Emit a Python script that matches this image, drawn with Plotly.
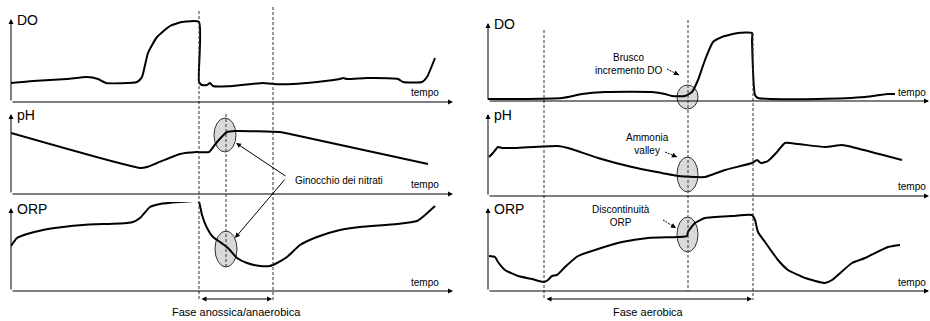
import plotly.graph_objects as go

FIG_W, FIG_H = 930, 321

# ---------------- data (time units / signal units, per panel) ----------------
do_left_t = [0, 22, 56, 76, 87, 95, 126, 131, 137, 146, 159, 171, 188, 188, 191, 196, 199, 202, 222, 252, 262, 282, 306, 329, 332, 336, 356, 387, 392, 411, 416, 424]
do_left_v = [19, 21, 23, 25, 23, 19, 20, 25, 49, 65, 76, 80, 80, 20, 17, 17, 19, 16, 16, 19, 18, 18, 20, 23, 24, 23, 24, 23, 20, 20, 25, 44]

ph_left_t = [0, 129, 136, 146, 169, 186, 198, 206, 216, 224, 269, 279, 417]
ph_left_v = [61, 26, 27, 31, 40, 42, 42, 52, 62, 63, 62, 60, 30]

orp_left_t = [0, 6, 16, 32, 52, 72, 116, 122, 129, 139, 149, 186, 188, 191, 196, 202, 209, 217, 226, 236, 249, 259, 266, 276, 289, 306, 329, 349, 386, 406, 414, 424]
orp_left_v = [45, 53, 57, 61, 64, 66, 68, 69, 73, 84, 87, 90, 89, 76, 63, 54, 49, 43, 33, 28, 25, 25, 28, 34, 46, 54, 61, 64, 67, 70, 76, 85]

do_right_t = [0, 27, 74, 94, 117, 164, 177, 184, 197, 204, 210, 217, 225, 234, 250, 264, 264, 267, 270, 284, 330, 377, 400, 407]
do_right_v = [2, 2, 3, 7, 9, 9, 7, 5, 5, 9, 21, 41, 59, 64, 68, 68, 60, 6, 3, 2, 2, 4, 7, 7]

ph_right_t = [1, 5, 10, 14, 27, 70, 80, 110, 144, 190, 207, 217, 237, 264, 269, 273, 280, 289, 297, 310, 337, 354, 364, 414]
ph_right_v = [39, 43, 49, 48, 48, 50, 48, 38, 29, 20, 19, 19, 26, 33, 36, 33, 35, 44, 53, 52, 49, 51, 49, 36]

orp_right_t = [1, 7, 10, 17, 30, 44, 56, 60, 64, 69, 77, 90, 110, 134, 160, 190, 199, 200, 207, 217, 244, 264, 267, 270, 277, 290, 300, 317, 337, 344, 364, 377, 400, 412]
orp_right_v = [35, 34, 29, 21, 15, 12, 9, 11, 15, 16, 24, 35, 42, 49, 53, 54, 55, 59, 68, 73, 75, 76, 71, 59, 49, 31, 21, 13, 8, 11, 28, 33, 44, 46]

panel_names = ["DO", "pH", "ORP", "DO", "pH", "ORP"]
axis_label = "tempo"
note_texts = ["Ginocchio dei nitrati", "Brusco<br>incremento DO", "Ammonia<br>valley", "Discontinuità<br>ORP"]
phase_texts = ["Fase anossica/anaerobica", "Fase aerobica"]

series = [
    (do_left_t, do_left_v), (ph_left_t, ph_left_v), (orp_left_t, orp_left_v),
    (do_right_t, do_right_v), (ph_right_t, ph_right_v), (orp_right_t, orp_right_v),
]

# ---------------- layout geometry (pixels) ----------------
# (x0, x1, top, base)
geom = [
    (11, 453, 19, 102), (11, 453, 114, 194), (11, 453, 208, 291),
    (488, 929, 23, 101), (488, 929, 114, 196), (488, 929, 208, 291),
]
PAD = 6  # extra room around each panel so lines are not clipped


def px(x):
    return x / FIG_W


def py(y):
    return 1 - y / FIG_H


fig = go.Figure()
layout_axes = {}
annotations = []
shapes = []
FONT = "Liberation Sans, Arial, sans-serif"

for i, ((t, v), (x0, x1, top, base), name) in enumerate(zip(series, geom, panel_names)):
    n = i + 1
    xs = "x" if n == 1 else f"x{n}"
    ys = "y" if n == 1 else f"y{n}"
    xk = "xaxis" if n == 1 else f"xaxis{n}"
    yk = "yaxis" if n == 1 else f"yaxis{n}"
    layout_axes[xk] = dict(domain=[px(x0), px(x1)], range=[0, x1 - x0], visible=False, anchor=ys, fixedrange=True)
    layout_axes[yk] = dict(domain=[py(base + PAD), py(top - PAD)], range=[-PAD, base - top + PAD],
                           visible=False, anchor=xs, fixedrange=True)
    fig.add_trace(go.Scatter(x=t, y=v, xaxis=xs, yaxis=ys, mode="lines",
                             line=dict(color="black", width=2, shape="spline", smoothing=0.5),
                             hoverinfo="skip", showlegend=False, cliponaxis=False))
    # axis arrows
    annotations.append(dict(xref="paper", yref="paper", x=px(x1), y=py(base), ax=-(x1 - x0), ay=0,
                            text="", showarrow=True, arrowhead=2, arrowsize=1, arrowwidth=1, arrowcolor="black"))
    annotations.append(dict(xref="paper", yref="paper", x=px(x0), y=py(top), ax=0, ay=base - top,
                            text="", showarrow=True, arrowhead=2, arrowsize=1, arrowwidth=1, arrowcolor="black"))
    # panel name
    annotations.append(dict(xref="paper", yref="paper", x=px(x0 + 4), y=py(top + 1), xanchor="left", yanchor="middle",
                            text=name, showarrow=False, font=dict(family=FONT, size=14, color="black")))
    # tempo label
    tx = x1 - 44 if x0 < 400 else 896
    annotations.append(dict(xref="paper", yref="paper", x=px(tx), y=py(base - 9), xanchor="left", yanchor="middle",
                            text=axis_label, showarrow=False, font=dict(family=FONT, size=10, color="black")))

# dashed vertical lines (x, y_top, y_bottom)
dashed = [(199, 11, 301), (273, 7, 301), (226, 114, 268), (544, 30, 300), (688, 20, 291), (753, 33, 300)]
for x, yt, yb in dashed:
    shapes.append(dict(type="line", xref="paper", yref="paper", x0=px(x), x1=px(x), y0=py(yt), y1=py(yb),
                       line=dict(color="#333333", width=1, dash="3px,2px"), layer="above"))

# ellipses (x0, x1, y0, y1)
ellipses = [(214, 236, 118, 152), (215, 237, 231, 267), (677, 698, 85, 109), (677, 698, 157, 192), (677, 698, 217, 252)]
for a, b, c, d in ellipses:
    shapes.append(dict(type="circle", xref="paper", yref="paper", x0=px(a), x1=px(b), y0=py(d), y1=py(c),
                       fillcolor="#d9d9d9", line=dict(color="#333333", width=1), layer="below"))

# note texts
annotations.append(dict(xref="paper", yref="paper", x=px(293), y=py(181), xanchor="left", yanchor="middle",
                        text=note_texts[0], showarrow=False, font=dict(family=FONT, size=10, color="black")))
annotations.append(dict(xref="paper", yref="paper", x=px(236), y=py(143), ax=51, ay=34, text="", showarrow=True,
                        arrowhead=2, arrowsize=1, arrowwidth=1, arrowcolor="black"))
annotations.append(dict(xref="paper", yref="paper", x=px(235), y=py(238), ax=51, ay=-60, text="", showarrow=True,
                        arrowhead=2, arrowsize=1, arrowwidth=1, arrowcolor="black"))

for txt, (cx, cy) in zip(note_texts[1:], [(628, 64), (647, 144), (621, 216)]):
    annotations.append(dict(xref="paper", yref="paper", x=px(cx), y=py(cy), xanchor="center", yanchor="middle",
                            text=txt, showarrow=False, align="center",
                            font=dict(family=FONT, size=10, color="black")))
# small dotted pointers (head x, head y, tail x, tail y)
for hx, hy, tx_, ty_ in [(679, 75, 667, 69), (677, 157, 665, 152), (676, 228, 663, 220)]:
    shapes.append(dict(type="line", xref="paper", yref="paper", x0=px(tx_), y0=py(ty_), x1=px(hx), y1=py(hy),
                       line=dict(color="black", width=1, dash="2px,1px"), layer="above"))
    annotations.append(dict(xref="paper", yref="paper", x=px(hx), y=py(hy), ax=(tx_ - hx) * 0.35,
                            ay=(ty_ - hy) * 0.35, text="", showarrow=True,
                            arrowhead=2, arrowsize=1, arrowwidth=1, arrowcolor="black"))

# phase arrows
for (xa, xb), txt in zip([(199, 273), (544, 753)], phase_texts):
    annotations.append(dict(xref="paper", yref="paper", x=px(xb - 1), y=py(299), ax=-(xb - xa - 2), ay=0, text="",
                            showarrow=True, arrowhead=2, startarrowhead=2, arrowside="end+start",
                            arrowsize=1, arrowwidth=1, arrowcolor="black"))
    annotations.append(dict(xref="paper", yref="paper", x=px((xa + xb) / 2), y=py(312), xanchor="center",
                            yanchor="middle", text=txt, showarrow=False,
                            font=dict(family=FONT, size=11, color="black")))

fig.update_layout(width=FIG_W, height=FIG_H, margin=dict(l=0, r=0, t=0, b=0, pad=0),
                  paper_bgcolor="white", plot_bgcolor="rgba(0,0,0,0)",
                  annotations=annotations, shapes=shapes, **layout_axes)
fig.write_html("out.html", config={"displayModeBar": False},
               post_script="document.body.style.margin='0';document.body.style.overflow='hidden';")
